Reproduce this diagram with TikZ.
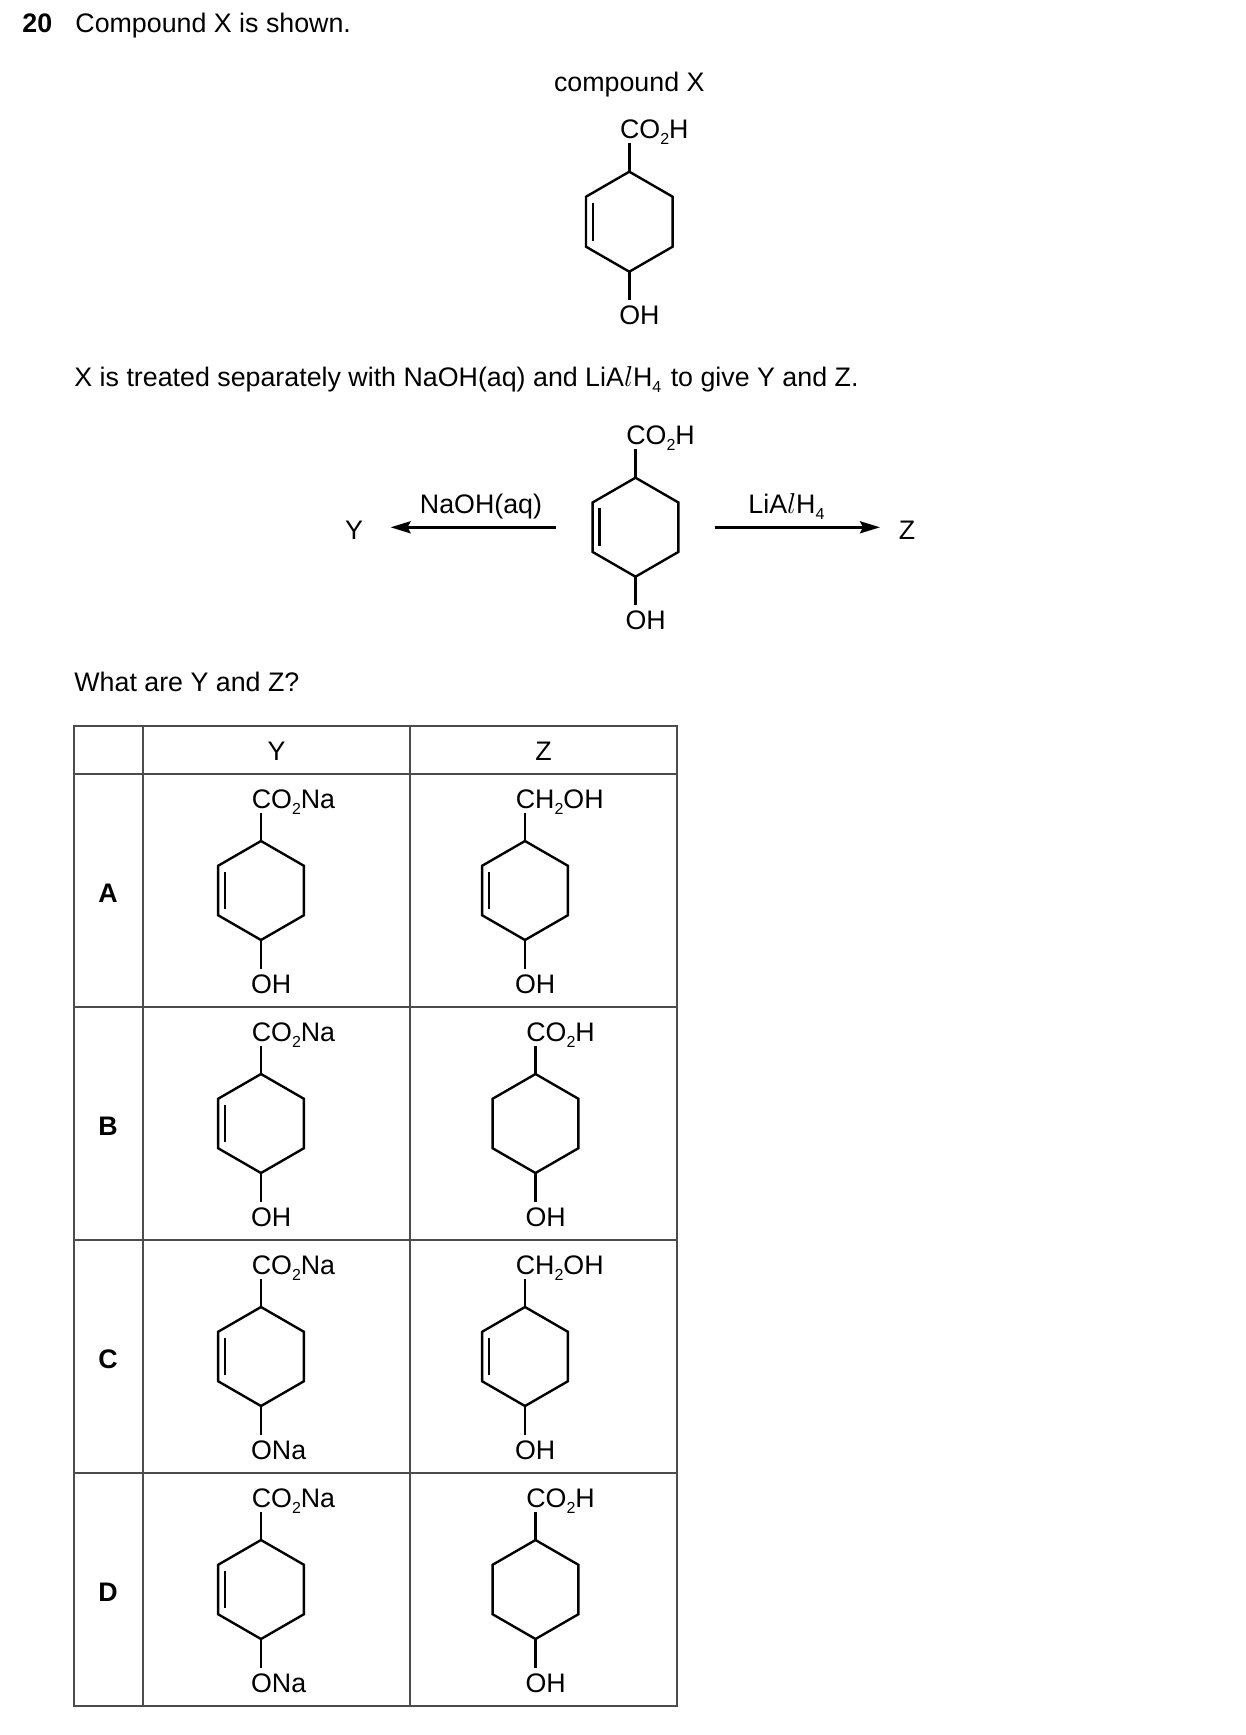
\documentclass[tikz,border=0pt]{standalone}
\usepackage{fontspec}
\setmainfont{Liberation Sans}
\usetikzlibrary{arrows.meta,calc}

\tikzset{
  bond/.style={line width=1.2pt, line join=miter},
  lbl/.style={inner sep=0pt, anchor=base west},
  grid/.style={line width=0.9pt, draw=black!70},
  react/.style={line width=1.3pt, -{Stealth[length=10pt,width=6pt,inset=1.5pt]}},
}

% lowered index in a formula
\newcommand{\chemsub}[1]{\raisebox{-3pt}{\fontsize{8}{8}\selectfont #1}}
% italic l of LiAlH4
\newcommand{\italel}{\ensuremath{l}}
% six-membered ring: name, centre x, centre y, side
\newcommand{\hexring}[4]{%
  \coordinate (#1-t)  at (#2,{#3-#4});
  \coordinate (#1-ur) at ({#2+0.866*#4},{#3-0.5*#4});
  \coordinate (#1-lr) at ({#2+0.866*#4},{#3+0.5*#4});
  \coordinate (#1-b)  at (#2,{#3+#4});
  \coordinate (#1-ll) at ({#2-0.866*#4},{#3+0.5*#4});
  \coordinate (#1-ul) at ({#2-0.866*#4},{#3-0.5*#4});
  \draw[bond] (#1-t) -- (#1-ur) -- (#1-lr) -- (#1-b) -- (#1-ll) -- (#1-ul) -- cycle;
}
% inner line of the C=C bond on the left side
\newcommand{\ringdouble}[1]{%
  \draw[bond] ($(#1-ul)+(7,6)$) -- ($(#1-ll)+(7,-6)$);
}
% groups above and below: name, centre x, centre y, side, top group, bottom group
\newcommand{\substit}[6]{%
  \coordinate (#1-tt) at (#2,{#3-#4-28.5});
  \coordinate (#1-bb) at (#2,{#3+#4+28.5});
  \draw[bond] (#1-t) -- (#1-tt);
  \draw[bond] (#1-b) -- (#1-bb);
  \node[lbl] (#1-top) at ({#2-9.6},{#3-#4-33}) {#5};
  \node[lbl] (#1-bot) at ({#2-10.35},{#3+#4+53}) {#6};
}

\begin{document}
\begin{tikzpicture}[x=0.5pt, y=-0.5pt, font=\fontsize{13.4}{16}\selectfont]
  \useasboundingbox (0,0) rectangle (1246,1735);

  % Question text
  \node[lbl] (qnum) at (22,32.3) {\bfseries 20};
  \node[lbl] (qstem) at (75,32.3) {Compound X is shown.};

  % Compound X
  \node[inner sep=0pt, anchor=base] (xname) at (629.3,91.7) {compound X};
  \hexring{molX}{629.3}{221.7}{50}
  \ringdouble{molX}
  \substit{molX}{629.3}{221.7}{50}{CO\chemsub{2}H}{OH}

  \node[lbl] (qtext) at (74,386.5)
    {X is treated separately with NaOH(aq) and LiA\italel H\chemsub{4}\kern1pt{} to give Y and Z.};

  % Draw the reaction scheme
  \hexring{molS}{635.5}{527.2}{49.5}
  \ringdouble{molS}
  \substit{molS}{635.5}{527.2}{49.5}{CO\chemsub{2}H}{OH}

  \coordinate (naoh-tail) at (556,527.3);
  \coordinate (naoh-tip) at (390.6,527.3);
  \coordinate (lah-tail) at (714.5,527.3);
  \coordinate (lah-tip) at (880,527.3);
  \draw[react] (naoh-tail) -- (naoh-tip);
  \draw[react] (lah-tail) -- (lah-tip);
  \node[inner sep=0pt, anchor=base] (naoh) at (481,513.3) {NaOH(aq)};
  \node[lbl] (lah) at (748,513.3) {LiA\italel H\chemsub{4}};
  \node[inner sep=0pt, anchor=base] (prodY) at (354,539.3) {Y};
  \node[inner sep=0pt, anchor=base] (prodZ) at (907,539.3) {Z};

  \node[lbl] (qask) at (74,691.7) {What are Y and Z?};

  % Draw the table
  \draw[grid] (74,726) rectangle (677,1706);
  \foreach \yy in {774,1007,1240,1473}
    \draw[grid] (74,\yy) -- (677,\yy);
  \foreach \xx in {143,410}
    \draw[grid] (\xx,726) -- (\xx,1706);

  \node[inner sep=0pt, anchor=base] (headY) at (276.5,760) {Y};
  \node[inner sep=0pt, anchor=base] (headZ) at (543.5,760) {Z};

  \node[inner sep=0pt, font=\fontsize{13.4}{16}\selectfont\bfseries] (rowA) at (108,893) {A};
  \node[inner sep=0pt, font=\fontsize{13.4}{16}\selectfont\bfseries] (rowB) at (108,1126) {B};
  \node[inner sep=0pt, font=\fontsize{13.4}{16}\selectfont\bfseries] (rowC) at (108,1359) {C};
  \node[inner sep=0pt, font=\fontsize{13.4}{16}\selectfont\bfseries] (rowD) at (108,1592) {D};

  % Row A
  \hexring{yA}{261}{890.5}{49.5}
  \ringdouble{yA}
  \substit{yA}{261}{890.5}{49.5}{CO\chemsub{2}Na}{OH}
  \hexring{zA}{525}{890.5}{49.5}
  \ringdouble{zA}
  \substit{zA}{525}{890.5}{49.5}{CH\chemsub{2}OH}{OH}

  % Row B
  \hexring{yB}{261}{1123.5}{49.5}
  \ringdouble{yB}
  \substit{yB}{261}{1123.5}{49.5}{CO\chemsub{2}Na}{OH}
  \hexring{zB}{535.5}{1123.5}{49.5}
  \substit{zB}{535.5}{1123.5}{49.5}{CO\chemsub{2}H}{OH}

  % Row C
  \hexring{yC}{261}{1356.5}{49.5}
  \ringdouble{yC}
  \substit{yC}{261}{1356.5}{49.5}{CO\chemsub{2}Na}{ONa}
  \hexring{zC}{525}{1356.5}{49.5}
  \ringdouble{zC}
  \substit{zC}{525}{1356.5}{49.5}{CH\chemsub{2}OH}{OH}

  % Row D
  \hexring{yD}{261}{1589.5}{49.5}
  \ringdouble{yD}
  \substit{yD}{261}{1589.5}{49.5}{CO\chemsub{2}Na}{ONa}
  \hexring{zD}{535.5}{1589.5}{49.5}
  \substit{zD}{535.5}{1589.5}{49.5}{CO\chemsub{2}H}{OH}

\end{tikzpicture}
\end{document}
